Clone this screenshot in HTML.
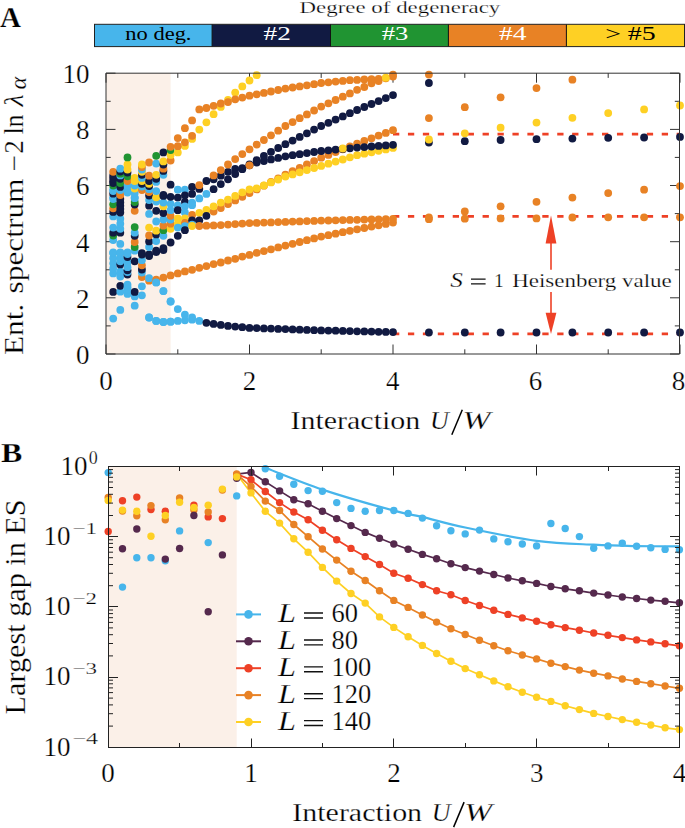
<!DOCTYPE html>
<html><head><meta charset="utf-8"><title>Entanglement spectrum figure</title>
<style>
html,body{margin:0;padding:0;background:#fff;width:685px;height:828px;overflow:hidden;}
svg{display:block;font-family:"Liberation Serif",serif;}
svg text{stroke:#fff;stroke-width:0.25px;}
</style></head><body>
<svg width="685" height="828" viewBox="0 0 685 828">
<rect width="685" height="828" fill="#fff"/>
<text x="0" y="26.6" font-family="Liberation Serif" font-weight="bold" font-size="29" fill="#000">A</text>
<text x="1" y="462.3" font-family="Liberation Serif" font-weight="bold" font-size="28" fill="#000" textLength="21.3" lengthAdjust="spacingAndGlyphs">B</text>
<text x="299.6" y="12.8" font-family="Liberation Serif" font-size="17" textLength="200.7" lengthAdjust="spacingAndGlyphs">Degree of degeneracy</text>
<rect x="94.5" y="24.3" width="118.1" height="22.3" fill="#47b5eb"/>
<rect x="212.1" y="24.3" width="118.9" height="22.3" fill="#111a42"/>
<rect x="330.5" y="24.3" width="118.4" height="22.3" fill="#209432"/>
<rect x="448.4" y="24.3" width="118.5" height="22.3" fill="#e88225"/>
<rect x="566.4" y="24.3" width="118.1" height="22.3" fill="#fed024"/>
<path d="M212.1 24.3V46.6M330.5 24.3V46.6M448.4 24.3V46.6M566.4 24.3V46.6" stroke="#111" stroke-width="1"/>
<rect x="94.5" y="24.3" width="590" height="22.3" fill="none" stroke="#222" stroke-width="1"/>
<text x="125.3" y="40" font-family="Liberation Serif" font-size="19" fill="#000" style="stroke:none" textLength="66.2" lengthAdjust="spacingAndGlyphs">no deg.</text>
<text x="263.5" y="40" font-family="Liberation Serif" font-size="19" fill="#fff" style="stroke:none" textLength="27.3" lengthAdjust="spacingAndGlyphs">#2</text>
<text x="381.7" y="40" font-family="Liberation Serif" font-size="19" fill="#fff" style="stroke:none" textLength="26.6" lengthAdjust="spacingAndGlyphs">#3</text>
<text x="499" y="40" font-family="Liberation Serif" font-size="19" fill="#fff" style="stroke:none" textLength="27.5" lengthAdjust="spacingAndGlyphs">#4</text>
<text x="605.2" y="40" font-family="Liberation Serif" font-size="19" fill="#000" style="stroke:none" textLength="50.5" lengthAdjust="spacingAndGlyphs">&gt; #5</text>
<rect x="106" y="73.2" width="64.6" height="280.8" fill="#fbf0e8"/>
<path d="M106.0 354v-9.5M106.0 73.2v9.5M177.8 354v-4.7M177.8 73.2v4.7M249.5 354v-9.5M249.5 73.2v9.5M321.2 354v-4.7M321.2 73.2v4.7M393.0 354v-9.5M393.0 73.2v9.5M464.8 354v-4.7M464.8 73.2v4.7M536.5 354v-9.5M536.5 73.2v9.5M608.2 354v-4.7M608.2 73.2v4.7M680.0 354v-9.5M680.0 73.2v9.5M106 354.0h9.5M679.5 354.0h-9.5M106 325.9h4.7M679.5 325.9h-4.7M106 297.8h9.5M679.5 297.8h-9.5M106 269.8h4.7M679.5 269.8h-4.7M106 241.7h9.5M679.5 241.7h-9.5M106 213.6h4.7M679.5 213.6h-4.7M106 185.5h9.5M679.5 185.5h-9.5M106 157.4h4.7M679.5 157.4h-4.7M106 129.4h9.5M679.5 129.4h-9.5M106 101.3h4.7M679.5 101.3h-4.7M106 73.2h9.5M679.5 73.2h-9.5" stroke="#333" stroke-width="1" fill="none"/>
<line x1="393" y1="134.1" x2="680" y2="134.1" stroke="#ee4126" stroke-width="2.8" stroke-dasharray="6.3 8.63"/>
<line x1="393" y1="216.3" x2="680" y2="216.3" stroke="#ee4126" stroke-width="2.8" stroke-dasharray="6.3 8.63"/>
<line x1="393" y1="333.8" x2="680" y2="333.8" stroke="#ee4126" stroke-width="2.8" stroke-dasharray="6.3 8.63"/>
<circle cx="113.2" cy="318.6" r="3.9" fill="#47b5eb"/>
<circle cx="113.2" cy="291.9" r="3.9" fill="#111a42"/>
<circle cx="113.2" cy="273.4" r="3.9" fill="#47b5eb"/>
<circle cx="113.2" cy="268.4" r="3.9" fill="#47b5eb"/>
<circle cx="113.2" cy="263.3" r="3.9" fill="#47b5eb"/>
<circle cx="113.2" cy="258.2" r="3.9" fill="#47b5eb"/>
<circle cx="113.2" cy="253.2" r="3.9" fill="#47b5eb"/>
<circle cx="113.2" cy="252.4" r="3.9" fill="#47b5eb"/>
<circle cx="113.2" cy="240.0" r="3.9" fill="#47b5eb"/>
<circle cx="113.2" cy="235.5" r="3.9" fill="#209432"/>
<circle cx="113.2" cy="232.7" r="3.9" fill="#111a42"/>
<circle cx="113.2" cy="227.6" r="3.9" fill="#47b5eb"/>
<circle cx="113.2" cy="216.4" r="3.9" fill="#47b5eb"/>
<circle cx="113.2" cy="211.9" r="3.9" fill="#111a42"/>
<circle cx="113.2" cy="208.3" r="3.9" fill="#e88225"/>
<circle cx="113.2" cy="204.3" r="3.9" fill="#209432"/>
<circle cx="113.2" cy="199.0" r="3.9" fill="#47b5eb"/>
<circle cx="113.2" cy="197.3" r="3.9" fill="#47b5eb"/>
<circle cx="113.2" cy="193.7" r="3.9" fill="#111a42"/>
<circle cx="113.2" cy="191.1" r="3.9" fill="#47b5eb"/>
<circle cx="113.2" cy="189.2" r="3.9" fill="#47b5eb"/>
<circle cx="113.2" cy="185.5" r="3.9" fill="#209432"/>
<circle cx="113.2" cy="183.0" r="3.9" fill="#111a42"/>
<circle cx="113.2" cy="181.3" r="3.9" fill="#111a42"/>
<circle cx="113.2" cy="178.5" r="3.9" fill="#111a42"/>
<circle cx="113.2" cy="175.7" r="3.9" fill="#111a42"/>
<circle cx="113.2" cy="171.8" r="3.9" fill="#e88225"/>
<circle cx="120.3" cy="309.9" r="3.9" fill="#47b5eb"/>
<circle cx="120.3" cy="291.7" r="3.9" fill="#47b5eb"/>
<circle cx="120.3" cy="285.8" r="3.9" fill="#111a42"/>
<circle cx="120.3" cy="276.5" r="3.9" fill="#47b5eb"/>
<circle cx="120.3" cy="271.4" r="3.9" fill="#47b5eb"/>
<circle cx="120.3" cy="264.4" r="3.9" fill="#111a42"/>
<circle cx="120.3" cy="261.3" r="3.9" fill="#47b5eb"/>
<circle cx="120.3" cy="258.2" r="3.9" fill="#47b5eb"/>
<circle cx="120.3" cy="253.2" r="3.9" fill="#47b5eb"/>
<circle cx="120.3" cy="252.4" r="3.9" fill="#47b5eb"/>
<circle cx="120.3" cy="243.9" r="3.9" fill="#47b5eb"/>
<circle cx="120.3" cy="232.7" r="3.9" fill="#111a42"/>
<circle cx="120.3" cy="228.8" r="3.9" fill="#47b5eb"/>
<circle cx="120.3" cy="223.7" r="3.9" fill="#47b5eb"/>
<circle cx="120.3" cy="218.7" r="3.9" fill="#47b5eb"/>
<circle cx="120.3" cy="212.5" r="3.9" fill="#111a42"/>
<circle cx="120.3" cy="209.1" r="3.9" fill="#111a42"/>
<circle cx="120.3" cy="205.7" r="3.9" fill="#111a42"/>
<circle cx="120.3" cy="202.4" r="3.9" fill="#111a42"/>
<circle cx="120.3" cy="199.0" r="3.9" fill="#111a42"/>
<circle cx="120.3" cy="195.1" r="3.9" fill="#e88225"/>
<circle cx="120.3" cy="193.7" r="3.9" fill="#e88225"/>
<circle cx="120.3" cy="190.0" r="3.9" fill="#47b5eb"/>
<circle cx="120.3" cy="186.9" r="3.9" fill="#111a42"/>
<circle cx="120.3" cy="183.0" r="3.9" fill="#209432"/>
<circle cx="120.3" cy="178.8" r="3.9" fill="#111a42"/>
<circle cx="120.3" cy="175.4" r="3.9" fill="#47b5eb"/>
<circle cx="120.3" cy="173.7" r="3.9" fill="#209432"/>
<circle cx="120.3" cy="171.5" r="3.9" fill="#111a42"/>
<circle cx="120.3" cy="168.7" r="3.9" fill="#47b5eb"/>
<circle cx="127.5" cy="293.9" r="3.9" fill="#47b5eb"/>
<circle cx="127.5" cy="289.4" r="3.9" fill="#47b5eb"/>
<circle cx="127.5" cy="287.2" r="3.9" fill="#47b5eb"/>
<circle cx="127.5" cy="284.6" r="3.9" fill="#47b5eb"/>
<circle cx="127.5" cy="274.5" r="3.9" fill="#111a42"/>
<circle cx="127.5" cy="272.0" r="3.9" fill="#47b5eb"/>
<circle cx="127.5" cy="270.3" r="3.9" fill="#111a42"/>
<circle cx="127.5" cy="267.2" r="3.9" fill="#47b5eb"/>
<circle cx="127.5" cy="262.2" r="3.9" fill="#47b5eb"/>
<circle cx="127.5" cy="257.1" r="3.9" fill="#111a42"/>
<circle cx="127.5" cy="254.0" r="3.9" fill="#47b5eb"/>
<circle cx="127.5" cy="252.4" r="3.9" fill="#47b5eb"/>
<circle cx="127.5" cy="192.5" r="3.9" fill="#47b5eb"/>
<circle cx="127.5" cy="190.0" r="3.9" fill="#47b5eb"/>
<circle cx="127.5" cy="186.1" r="3.9" fill="#47b5eb"/>
<circle cx="127.5" cy="181.0" r="3.9" fill="#e88225"/>
<circle cx="127.5" cy="176.3" r="3.9" fill="#209432"/>
<circle cx="127.5" cy="172.6" r="3.9" fill="#111a42"/>
<circle cx="127.5" cy="169.5" r="3.9" fill="#fed024"/>
<circle cx="127.5" cy="164.5" r="3.9" fill="#fed024"/>
<circle cx="127.5" cy="157.4" r="3.9" fill="#209432"/>
<circle cx="134.7" cy="305.7" r="3.9" fill="#47b5eb"/>
<circle cx="134.7" cy="296.4" r="3.9" fill="#47b5eb"/>
<circle cx="134.7" cy="291.9" r="3.9" fill="#111a42"/>
<circle cx="134.7" cy="261.3" r="3.9" fill="#111a42"/>
<circle cx="134.7" cy="250.7" r="3.9" fill="#47b5eb"/>
<circle cx="134.7" cy="247.0" r="3.9" fill="#209432"/>
<circle cx="134.7" cy="242.0" r="3.9" fill="#e88225"/>
<circle cx="134.7" cy="235.8" r="3.9" fill="#111a42"/>
<circle cx="134.7" cy="232.7" r="3.9" fill="#47b5eb"/>
<circle cx="134.7" cy="227.1" r="3.9" fill="#209432"/>
<circle cx="134.7" cy="210.8" r="3.9" fill="#e88225"/>
<circle cx="134.7" cy="204.6" r="3.9" fill="#111a42"/>
<circle cx="134.7" cy="202.1" r="3.9" fill="#209432"/>
<circle cx="134.7" cy="198.2" r="3.9" fill="#47b5eb"/>
<circle cx="134.7" cy="197.3" r="3.9" fill="#47b5eb"/>
<circle cx="134.7" cy="193.1" r="3.9" fill="#47b5eb"/>
<circle cx="134.7" cy="188.6" r="3.9" fill="#fed024"/>
<circle cx="134.7" cy="185.5" r="3.9" fill="#47b5eb"/>
<circle cx="134.7" cy="181.0" r="3.9" fill="#fed024"/>
<circle cx="134.7" cy="177.9" r="3.9" fill="#fed024"/>
<circle cx="141.9" cy="295.3" r="3.9" fill="#47b5eb"/>
<circle cx="141.9" cy="286.3" r="3.9" fill="#47b5eb"/>
<circle cx="141.9" cy="277.1" r="3.9" fill="#e88225"/>
<circle cx="141.9" cy="272.6" r="3.9" fill="#47b5eb"/>
<circle cx="141.9" cy="269.5" r="3.9" fill="#111a42"/>
<circle cx="141.9" cy="265.3" r="3.9" fill="#e88225"/>
<circle cx="141.9" cy="260.2" r="3.9" fill="#47b5eb"/>
<circle cx="141.9" cy="254.6" r="3.9" fill="#111a42"/>
<circle cx="141.9" cy="253.2" r="3.9" fill="#111a42"/>
<circle cx="141.9" cy="190.0" r="3.9" fill="#e88225"/>
<circle cx="141.9" cy="186.6" r="3.9" fill="#47b5eb"/>
<circle cx="141.9" cy="183.8" r="3.9" fill="#111a42"/>
<circle cx="141.9" cy="181.0" r="3.9" fill="#fed024"/>
<circle cx="141.9" cy="177.9" r="3.9" fill="#47b5eb"/>
<circle cx="141.9" cy="174.8" r="3.9" fill="#111a42"/>
<circle cx="141.9" cy="171.8" r="3.9" fill="#fed024"/>
<circle cx="141.9" cy="169.5" r="3.9" fill="#47b5eb"/>
<circle cx="141.9" cy="167.0" r="3.9" fill="#e88225"/>
<circle cx="141.9" cy="164.5" r="3.9" fill="#fed024"/>
<circle cx="149.1" cy="317.5" r="3.9" fill="#47b5eb"/>
<circle cx="149.1" cy="280.7" r="3.9" fill="#e88225"/>
<circle cx="149.1" cy="278.2" r="3.9" fill="#47b5eb"/>
<circle cx="149.1" cy="256.0" r="3.9" fill="#111a42"/>
<circle cx="149.1" cy="254.3" r="3.9" fill="#111a42"/>
<circle cx="149.1" cy="247.0" r="3.9" fill="#47b5eb"/>
<circle cx="149.1" cy="241.4" r="3.9" fill="#111a42"/>
<circle cx="149.1" cy="235.5" r="3.9" fill="#e88225"/>
<circle cx="149.1" cy="227.6" r="3.9" fill="#fed024"/>
<circle cx="149.1" cy="213.9" r="3.9" fill="#47b5eb"/>
<circle cx="149.1" cy="205.7" r="3.9" fill="#111a42"/>
<circle cx="149.1" cy="200.1" r="3.9" fill="#47b5eb"/>
<circle cx="149.1" cy="195.6" r="3.9" fill="#111a42"/>
<circle cx="149.1" cy="192.0" r="3.9" fill="#e88225"/>
<circle cx="149.1" cy="189.2" r="3.9" fill="#47b5eb"/>
<circle cx="149.1" cy="186.1" r="3.9" fill="#111a42"/>
<circle cx="149.1" cy="183.8" r="3.9" fill="#fed024"/>
<circle cx="149.1" cy="181.0" r="3.9" fill="#111a42"/>
<circle cx="149.1" cy="175.7" r="3.9" fill="#e88225"/>
<circle cx="149.1" cy="162.5" r="3.9" fill="#e88225"/>
<circle cx="156.2" cy="320.9" r="3.9" fill="#47b5eb"/>
<circle cx="156.2" cy="282.4" r="3.9" fill="#47b5eb"/>
<circle cx="156.2" cy="279.6" r="3.9" fill="#e88225"/>
<circle cx="156.2" cy="252.1" r="3.9" fill="#111a42"/>
<circle cx="156.2" cy="250.7" r="3.9" fill="#111a42"/>
<circle cx="156.2" cy="241.1" r="3.9" fill="#47b5eb"/>
<circle cx="156.2" cy="234.4" r="3.9" fill="#111a42"/>
<circle cx="156.2" cy="230.7" r="3.9" fill="#fed024"/>
<circle cx="156.2" cy="221.5" r="3.9" fill="#47b5eb"/>
<circle cx="156.2" cy="210.8" r="3.9" fill="#111a42"/>
<circle cx="156.2" cy="201.5" r="3.9" fill="#47b5eb"/>
<circle cx="156.2" cy="197.3" r="3.9" fill="#fed024"/>
<circle cx="156.2" cy="191.1" r="3.9" fill="#47b5eb"/>
<circle cx="156.2" cy="181.9" r="3.9" fill="#47b5eb"/>
<circle cx="156.2" cy="178.8" r="3.9" fill="#111a42"/>
<circle cx="156.2" cy="174.8" r="3.9" fill="#fed024"/>
<circle cx="156.2" cy="163.6" r="3.9" fill="#47b5eb"/>
<circle cx="156.2" cy="155.8" r="3.9" fill="#209432"/>
<circle cx="163.4" cy="322.0" r="3.9" fill="#47b5eb"/>
<circle cx="163.4" cy="291.1" r="3.9" fill="#47b5eb"/>
<circle cx="163.4" cy="277.6" r="3.9" fill="#e88225"/>
<circle cx="163.4" cy="250.1" r="3.9" fill="#111a42"/>
<circle cx="163.4" cy="248.1" r="3.9" fill="#111a42"/>
<circle cx="163.4" cy="235.8" r="3.9" fill="#47b5eb"/>
<circle cx="163.4" cy="230.2" r="3.9" fill="#209432"/>
<circle cx="163.4" cy="225.7" r="3.9" fill="#e88225"/>
<circle cx="163.4" cy="219.5" r="3.9" fill="#47b5eb"/>
<circle cx="163.4" cy="213.0" r="3.9" fill="#111a42"/>
<circle cx="163.4" cy="206.3" r="3.9" fill="#fed024"/>
<circle cx="163.4" cy="202.6" r="3.9" fill="#47b5eb"/>
<circle cx="163.4" cy="195.9" r="3.9" fill="#111a42"/>
<circle cx="163.4" cy="194.8" r="3.9" fill="#111a42"/>
<circle cx="163.4" cy="174.8" r="3.9" fill="#47b5eb"/>
<circle cx="163.4" cy="170.9" r="3.9" fill="#111a42"/>
<circle cx="163.4" cy="168.7" r="3.9" fill="#e88225"/>
<circle cx="163.4" cy="164.5" r="3.9" fill="#111a42"/>
<circle cx="163.4" cy="161.4" r="3.9" fill="#fed024"/>
<circle cx="163.4" cy="152.4" r="3.9" fill="#111a42"/>
<circle cx="170.6" cy="321.7" r="3.9" fill="#47b5eb"/>
<circle cx="170.6" cy="301.5" r="3.9" fill="#47b5eb"/>
<circle cx="170.6" cy="275.4" r="3.9" fill="#e88225"/>
<circle cx="170.6" cy="242.5" r="3.9" fill="#111a42"/>
<circle cx="170.6" cy="228.8" r="3.9" fill="#fed024"/>
<circle cx="170.6" cy="223.7" r="3.9" fill="#e88225"/>
<circle cx="170.6" cy="219.5" r="3.9" fill="#47b5eb"/>
<circle cx="170.6" cy="215.8" r="3.9" fill="#e88225"/>
<circle cx="170.6" cy="210.2" r="3.9" fill="#47b5eb"/>
<circle cx="170.6" cy="203.8" r="3.9" fill="#47b5eb"/>
<circle cx="170.6" cy="196.8" r="3.9" fill="#111a42"/>
<circle cx="170.6" cy="184.7" r="3.9" fill="#111a42"/>
<circle cx="170.6" cy="160.5" r="3.9" fill="#e88225"/>
<circle cx="170.6" cy="154.9" r="3.9" fill="#fed024"/>
<circle cx="170.6" cy="150.1" r="3.9" fill="#209432"/>
<circle cx="170.6" cy="146.8" r="3.9" fill="#e88225"/>
<circle cx="177.8" cy="189.7" r="3.9" fill="#47b5eb"/>
<circle cx="177.8" cy="197.6" r="3.9" fill="#111a42"/>
<circle cx="177.8" cy="205.5" r="3.9" fill="#47b5eb"/>
<circle cx="177.8" cy="210.2" r="3.9" fill="#111a42"/>
<circle cx="177.8" cy="218.4" r="3.9" fill="#fed024"/>
<circle cx="177.8" cy="223.7" r="3.9" fill="#fed024"/>
<circle cx="177.8" cy="227.6" r="3.9" fill="#47b5eb"/>
<circle cx="184.9" cy="189.7" r="3.9" fill="#47b5eb"/>
<circle cx="184.9" cy="195.3" r="3.9" fill="#111a42"/>
<circle cx="184.9" cy="201.8" r="3.9" fill="#111a42"/>
<circle cx="184.9" cy="206.3" r="3.9" fill="#47b5eb"/>
<circle cx="184.9" cy="212.5" r="3.9" fill="#47b5eb"/>
<circle cx="184.9" cy="218.4" r="3.9" fill="#fed024"/>
<circle cx="184.9" cy="222.9" r="3.9" fill="#e88225"/>
<circle cx="184.9" cy="226.2" r="3.9" fill="#47b5eb"/>
<circle cx="192.1" cy="186.9" r="3.9" fill="#111a42"/>
<circle cx="192.1" cy="193.9" r="3.9" fill="#111a42"/>
<circle cx="192.1" cy="202.6" r="3.9" fill="#47b5eb"/>
<circle cx="192.1" cy="205.2" r="3.9" fill="#47b5eb"/>
<circle cx="192.1" cy="215.0" r="3.9" fill="#e88225"/>
<circle cx="192.1" cy="220.3" r="3.9" fill="#111a42"/>
<circle cx="192.1" cy="224.6" r="3.9" fill="#47b5eb"/>
<circle cx="192.1" cy="226.0" r="3.9" fill="#fed024"/>
<circle cx="199.3" cy="188.9" r="3.9" fill="#111a42"/>
<circle cx="199.3" cy="198.4" r="3.9" fill="#47b5eb"/>
<circle cx="199.3" cy="212.8" r="3.9" fill="#fed024"/>
<circle cx="199.3" cy="220.3" r="3.9" fill="#111a42"/>
<circle cx="206.4" cy="193.9" r="3.9" fill="#47b5eb"/>
<circle cx="206.4" cy="209.9" r="3.9" fill="#fed024"/>
<circle cx="206.4" cy="215.8" r="3.9" fill="#111a42"/>
<circle cx="149.1" cy="317.5" r="3.9" fill="#47b5eb"/>
<circle cx="156.2" cy="320.9" r="3.9" fill="#47b5eb"/>
<circle cx="163.4" cy="322.0" r="3.9" fill="#47b5eb"/>
<circle cx="170.6" cy="321.7" r="3.9" fill="#47b5eb"/>
<circle cx="177.8" cy="320.9" r="3.9" fill="#47b5eb"/>
<circle cx="184.9" cy="320.3" r="3.9" fill="#47b5eb"/>
<circle cx="192.1" cy="319.7" r="3.9" fill="#47b5eb"/>
<circle cx="199.3" cy="320.9" r="3.9" fill="#47b5eb"/>
<circle cx="156.2" cy="282.4" r="3.9" fill="#47b5eb"/>
<circle cx="163.4" cy="291.1" r="3.9" fill="#47b5eb"/>
<circle cx="170.6" cy="301.5" r="3.9" fill="#47b5eb"/>
<circle cx="177.8" cy="309.1" r="3.9" fill="#47b5eb"/>
<circle cx="184.9" cy="314.7" r="3.9" fill="#47b5eb"/>
<circle cx="192.1" cy="317.5" r="3.9" fill="#47b5eb"/>
<circle cx="206.4" cy="322.8" r="3.9" fill="#111a42"/>
<circle cx="213.6" cy="323.9" r="3.9" fill="#111a42"/>
<circle cx="220.8" cy="324.9" r="3.9" fill="#111a42"/>
<circle cx="228.0" cy="325.9" r="3.9" fill="#111a42"/>
<circle cx="235.2" cy="326.6" r="3.9" fill="#111a42"/>
<circle cx="242.3" cy="327.2" r="3.9" fill="#111a42"/>
<circle cx="249.5" cy="327.9" r="3.9" fill="#111a42"/>
<circle cx="256.7" cy="328.1" r="3.9" fill="#111a42"/>
<circle cx="263.9" cy="328.4" r="3.9" fill="#111a42"/>
<circle cx="271.0" cy="328.6" r="3.9" fill="#111a42"/>
<circle cx="278.2" cy="328.9" r="3.9" fill="#111a42"/>
<circle cx="285.4" cy="329.1" r="3.9" fill="#111a42"/>
<circle cx="292.6" cy="329.4" r="3.9" fill="#111a42"/>
<circle cx="299.7" cy="329.7" r="3.9" fill="#111a42"/>
<circle cx="306.9" cy="329.9" r="3.9" fill="#111a42"/>
<circle cx="314.1" cy="330.2" r="3.9" fill="#111a42"/>
<circle cx="321.2" cy="330.4" r="3.9" fill="#111a42"/>
<circle cx="328.4" cy="330.6" r="3.9" fill="#111a42"/>
<circle cx="335.6" cy="330.7" r="3.9" fill="#111a42"/>
<circle cx="342.8" cy="330.9" r="3.9" fill="#111a42"/>
<circle cx="349.9" cy="331.1" r="3.9" fill="#111a42"/>
<circle cx="357.1" cy="331.3" r="3.9" fill="#111a42"/>
<circle cx="364.3" cy="331.4" r="3.9" fill="#111a42"/>
<circle cx="371.5" cy="331.6" r="3.9" fill="#111a42"/>
<circle cx="378.6" cy="331.8" r="3.9" fill="#111a42"/>
<circle cx="385.8" cy="331.9" r="3.9" fill="#111a42"/>
<circle cx="393.0" cy="332.1" r="3.9" fill="#111a42"/>
<circle cx="177.8" cy="273.4" r="3.9" fill="#e88225"/>
<circle cx="184.9" cy="271.4" r="3.9" fill="#e88225"/>
<circle cx="192.1" cy="269.8" r="3.9" fill="#e88225"/>
<circle cx="199.3" cy="267.8" r="3.9" fill="#e88225"/>
<circle cx="206.4" cy="266.1" r="3.9" fill="#e88225"/>
<circle cx="213.6" cy="264.1" r="3.9" fill="#e88225"/>
<circle cx="220.8" cy="262.5" r="3.9" fill="#e88225"/>
<circle cx="228.0" cy="260.5" r="3.9" fill="#e88225"/>
<circle cx="235.2" cy="258.8" r="3.9" fill="#e88225"/>
<circle cx="242.3" cy="256.6" r="3.9" fill="#e88225"/>
<circle cx="249.5" cy="254.9" r="3.9" fill="#e88225"/>
<circle cx="256.7" cy="252.9" r="3.9" fill="#e88225"/>
<circle cx="263.9" cy="251.1" r="3.9" fill="#e88225"/>
<circle cx="271.0" cy="249.3" r="3.9" fill="#e88225"/>
<circle cx="278.2" cy="247.4" r="3.9" fill="#e88225"/>
<circle cx="285.4" cy="245.6" r="3.9" fill="#e88225"/>
<circle cx="292.6" cy="243.8" r="3.9" fill="#e88225"/>
<circle cx="299.7" cy="242.0" r="3.9" fill="#e88225"/>
<circle cx="306.9" cy="240.2" r="3.9" fill="#e88225"/>
<circle cx="314.1" cy="238.4" r="3.9" fill="#e88225"/>
<circle cx="321.2" cy="236.6" r="3.9" fill="#e88225"/>
<circle cx="328.4" cy="235.2" r="3.9" fill="#e88225"/>
<circle cx="335.6" cy="233.7" r="3.9" fill="#e88225"/>
<circle cx="342.8" cy="232.2" r="3.9" fill="#e88225"/>
<circle cx="349.9" cy="230.8" r="3.9" fill="#e88225"/>
<circle cx="357.1" cy="229.3" r="3.9" fill="#e88225"/>
<circle cx="364.3" cy="228.0" r="3.9" fill="#e88225"/>
<circle cx="371.5" cy="226.6" r="3.9" fill="#e88225"/>
<circle cx="378.6" cy="225.3" r="3.9" fill="#e88225"/>
<circle cx="385.8" cy="223.9" r="3.9" fill="#e88225"/>
<circle cx="393.0" cy="222.6" r="3.9" fill="#e88225"/>
<circle cx="177.8" cy="235.8" r="3.9" fill="#111a42"/>
<circle cx="184.9" cy="230.2" r="3.9" fill="#111a42"/>
<circle cx="199.3" cy="226.0" r="3.9" fill="#e88225"/>
<circle cx="206.4" cy="225.7" r="3.9" fill="#e88225"/>
<circle cx="213.6" cy="225.4" r="3.9" fill="#e88225"/>
<circle cx="220.8" cy="225.1" r="3.9" fill="#e88225"/>
<circle cx="228.0" cy="224.6" r="3.9" fill="#e88225"/>
<circle cx="235.2" cy="224.1" r="3.9" fill="#e88225"/>
<circle cx="242.3" cy="223.6" r="3.9" fill="#e88225"/>
<circle cx="249.5" cy="223.1" r="3.9" fill="#e88225"/>
<circle cx="256.7" cy="222.9" r="3.9" fill="#e88225"/>
<circle cx="263.9" cy="222.6" r="3.9" fill="#e88225"/>
<circle cx="271.0" cy="222.4" r="3.9" fill="#e88225"/>
<circle cx="278.2" cy="222.1" r="3.9" fill="#e88225"/>
<circle cx="285.4" cy="221.9" r="3.9" fill="#e88225"/>
<circle cx="292.6" cy="221.6" r="3.9" fill="#e88225"/>
<circle cx="299.7" cy="221.4" r="3.9" fill="#e88225"/>
<circle cx="306.9" cy="221.1" r="3.9" fill="#e88225"/>
<circle cx="314.1" cy="220.9" r="3.9" fill="#e88225"/>
<circle cx="321.2" cy="220.6" r="3.9" fill="#e88225"/>
<circle cx="328.4" cy="220.5" r="3.9" fill="#e88225"/>
<circle cx="335.6" cy="220.3" r="3.9" fill="#e88225"/>
<circle cx="342.8" cy="220.1" r="3.9" fill="#e88225"/>
<circle cx="349.9" cy="219.9" r="3.9" fill="#e88225"/>
<circle cx="357.1" cy="219.8" r="3.9" fill="#e88225"/>
<circle cx="364.3" cy="219.6" r="3.9" fill="#e88225"/>
<circle cx="371.5" cy="219.4" r="3.9" fill="#e88225"/>
<circle cx="378.6" cy="219.3" r="3.9" fill="#e88225"/>
<circle cx="385.8" cy="219.1" r="3.9" fill="#e88225"/>
<circle cx="393.0" cy="218.9" r="3.9" fill="#e88225"/>
<circle cx="213.6" cy="211.6" r="3.9" fill="#e88225"/>
<circle cx="220.8" cy="208.0" r="3.9" fill="#e88225"/>
<circle cx="228.0" cy="204.1" r="3.9" fill="#e88225"/>
<circle cx="235.2" cy="200.4" r="3.9" fill="#e88225"/>
<circle cx="242.3" cy="196.8" r="3.9" fill="#e88225"/>
<circle cx="249.5" cy="193.1" r="3.9" fill="#e88225"/>
<circle cx="256.7" cy="189.4" r="3.9" fill="#e88225"/>
<circle cx="263.9" cy="185.7" r="3.9" fill="#e88225"/>
<circle cx="271.0" cy="182.0" r="3.9" fill="#e88225"/>
<circle cx="278.2" cy="178.3" r="3.9" fill="#e88225"/>
<circle cx="285.4" cy="174.6" r="3.9" fill="#e88225"/>
<circle cx="292.6" cy="171.2" r="3.9" fill="#e88225"/>
<circle cx="299.7" cy="167.8" r="3.9" fill="#e88225"/>
<circle cx="306.9" cy="164.5" r="3.9" fill="#e88225"/>
<circle cx="314.1" cy="161.1" r="3.9" fill="#e88225"/>
<circle cx="321.2" cy="157.7" r="3.9" fill="#e88225"/>
<circle cx="328.4" cy="154.9" r="3.9" fill="#e88225"/>
<circle cx="335.6" cy="152.1" r="3.9" fill="#e88225"/>
<circle cx="342.8" cy="149.3" r="3.9" fill="#e88225"/>
<circle cx="349.9" cy="146.5" r="3.9" fill="#e88225"/>
<circle cx="357.1" cy="143.7" r="3.9" fill="#e88225"/>
<circle cx="364.3" cy="141.0" r="3.9" fill="#e88225"/>
<circle cx="371.5" cy="138.3" r="3.9" fill="#e88225"/>
<circle cx="378.6" cy="135.6" r="3.9" fill="#e88225"/>
<circle cx="385.8" cy="132.9" r="3.9" fill="#e88225"/>
<circle cx="393.0" cy="130.2" r="3.9" fill="#e88225"/>
<circle cx="213.6" cy="206.3" r="3.9" fill="#fed024"/>
<circle cx="220.8" cy="202.6" r="3.9" fill="#fed024"/>
<circle cx="228.0" cy="199.6" r="3.9" fill="#fed024"/>
<circle cx="235.2" cy="195.9" r="3.9" fill="#fed024"/>
<circle cx="242.3" cy="192.3" r="3.9" fill="#fed024"/>
<circle cx="249.5" cy="189.5" r="3.9" fill="#fed024"/>
<circle cx="256.7" cy="188.3" r="3.9" fill="#fed024"/>
<circle cx="263.9" cy="185.4" r="3.9" fill="#fed024"/>
<circle cx="271.0" cy="182.4" r="3.9" fill="#fed024"/>
<circle cx="278.2" cy="179.5" r="3.9" fill="#fed024"/>
<circle cx="285.4" cy="176.5" r="3.9" fill="#fed024"/>
<circle cx="292.6" cy="174.4" r="3.9" fill="#fed024"/>
<circle cx="299.7" cy="172.3" r="3.9" fill="#fed024"/>
<circle cx="306.9" cy="170.1" r="3.9" fill="#fed024"/>
<circle cx="314.1" cy="168.0" r="3.9" fill="#fed024"/>
<circle cx="321.2" cy="165.9" r="3.9" fill="#fed024"/>
<circle cx="328.4" cy="163.7" r="3.9" fill="#fed024"/>
<circle cx="335.6" cy="161.6" r="3.9" fill="#fed024"/>
<circle cx="342.8" cy="159.5" r="3.9" fill="#fed024"/>
<circle cx="349.9" cy="157.3" r="3.9" fill="#fed024"/>
<circle cx="357.1" cy="155.2" r="3.9" fill="#fed024"/>
<circle cx="364.3" cy="153.7" r="3.9" fill="#fed024"/>
<circle cx="371.5" cy="152.3" r="3.9" fill="#fed024"/>
<circle cx="378.6" cy="150.8" r="3.9" fill="#fed024"/>
<circle cx="385.8" cy="149.4" r="3.9" fill="#fed024"/>
<circle cx="393.0" cy="147.9" r="3.9" fill="#fed024"/>
<circle cx="206.4" cy="181.0" r="3.9" fill="#111a42"/>
<circle cx="213.6" cy="179.3" r="3.9" fill="#111a42"/>
<circle cx="220.8" cy="175.7" r="3.9" fill="#111a42"/>
<circle cx="228.0" cy="171.8" r="3.9" fill="#111a42"/>
<circle cx="235.2" cy="169.0" r="3.9" fill="#111a42"/>
<circle cx="242.3" cy="168.1" r="3.9" fill="#111a42"/>
<circle cx="249.5" cy="165.3" r="3.9" fill="#111a42"/>
<circle cx="256.7" cy="162.5" r="3.9" fill="#111a42"/>
<circle cx="263.9" cy="161.0" r="3.9" fill="#111a42"/>
<circle cx="271.0" cy="159.4" r="3.9" fill="#111a42"/>
<circle cx="278.2" cy="157.9" r="3.9" fill="#111a42"/>
<circle cx="285.4" cy="156.3" r="3.9" fill="#111a42"/>
<circle cx="292.6" cy="155.2" r="3.9" fill="#111a42"/>
<circle cx="299.7" cy="154.2" r="3.9" fill="#111a42"/>
<circle cx="306.9" cy="153.1" r="3.9" fill="#111a42"/>
<circle cx="314.1" cy="152.0" r="3.9" fill="#111a42"/>
<circle cx="321.2" cy="151.0" r="3.9" fill="#111a42"/>
<circle cx="328.4" cy="150.3" r="3.9" fill="#111a42"/>
<circle cx="335.6" cy="149.6" r="3.9" fill="#111a42"/>
<circle cx="342.8" cy="149.0" r="3.9" fill="#111a42"/>
<circle cx="349.9" cy="148.3" r="3.9" fill="#111a42"/>
<circle cx="357.1" cy="147.6" r="3.9" fill="#111a42"/>
<circle cx="364.3" cy="147.1" r="3.9" fill="#111a42"/>
<circle cx="371.5" cy="146.5" r="3.9" fill="#111a42"/>
<circle cx="378.6" cy="145.9" r="3.9" fill="#111a42"/>
<circle cx="385.8" cy="145.4" r="3.9" fill="#111a42"/>
<circle cx="393.0" cy="144.8" r="3.9" fill="#111a42"/>
<circle cx="213.6" cy="189.2" r="3.9" fill="#111a42"/>
<circle cx="220.8" cy="184.1" r="3.9" fill="#111a42"/>
<circle cx="228.0" cy="179.3" r="3.9" fill="#111a42"/>
<circle cx="235.2" cy="174.0" r="3.9" fill="#111a42"/>
<circle cx="242.3" cy="169.2" r="3.9" fill="#111a42"/>
<circle cx="249.5" cy="164.5" r="3.9" fill="#111a42"/>
<circle cx="256.7" cy="160.2" r="3.9" fill="#111a42"/>
<circle cx="263.9" cy="156.0" r="3.9" fill="#111a42"/>
<circle cx="271.0" cy="151.8" r="3.9" fill="#111a42"/>
<circle cx="278.2" cy="148.0" r="3.9" fill="#111a42"/>
<circle cx="285.4" cy="144.2" r="3.9" fill="#111a42"/>
<circle cx="292.6" cy="140.6" r="3.9" fill="#111a42"/>
<circle cx="299.7" cy="136.9" r="3.9" fill="#111a42"/>
<circle cx="306.9" cy="133.3" r="3.9" fill="#111a42"/>
<circle cx="314.1" cy="129.6" r="3.9" fill="#111a42"/>
<circle cx="321.2" cy="126.0" r="3.9" fill="#111a42"/>
<circle cx="328.4" cy="122.8" r="3.9" fill="#111a42"/>
<circle cx="335.6" cy="119.6" r="3.9" fill="#111a42"/>
<circle cx="342.8" cy="116.4" r="3.9" fill="#111a42"/>
<circle cx="349.9" cy="113.2" r="3.9" fill="#111a42"/>
<circle cx="357.1" cy="110.0" r="3.9" fill="#111a42"/>
<circle cx="364.3" cy="107.0" r="3.9" fill="#111a42"/>
<circle cx="371.5" cy="104.0" r="3.9" fill="#111a42"/>
<circle cx="378.6" cy="101.1" r="3.9" fill="#111a42"/>
<circle cx="385.8" cy="98.1" r="3.9" fill="#111a42"/>
<circle cx="393.0" cy="95.1" r="3.9" fill="#111a42"/>
<circle cx="249.5" cy="165.3" r="3.9" fill="#e88225"/>
<circle cx="342.8" cy="148.5" r="3.9" fill="#fed024"/>
<circle cx="199.3" cy="185.2" r="3.9" fill="#e88225"/>
<circle cx="213.6" cy="175.4" r="3.9" fill="#e88225"/>
<circle cx="220.8" cy="170.1" r="3.9" fill="#e88225"/>
<circle cx="228.0" cy="164.5" r="3.9" fill="#e88225"/>
<circle cx="235.2" cy="159.1" r="3.9" fill="#e88225"/>
<circle cx="242.3" cy="154.1" r="3.9" fill="#e88225"/>
<circle cx="249.5" cy="149.3" r="3.9" fill="#e88225"/>
<circle cx="256.7" cy="144.6" r="3.9" fill="#e88225"/>
<circle cx="263.9" cy="140.0" r="3.9" fill="#e88225"/>
<circle cx="271.0" cy="135.3" r="3.9" fill="#e88225"/>
<circle cx="278.2" cy="130.7" r="3.9" fill="#e88225"/>
<circle cx="285.4" cy="126.0" r="3.9" fill="#e88225"/>
<circle cx="292.6" cy="122.1" r="3.9" fill="#e88225"/>
<circle cx="299.7" cy="118.2" r="3.9" fill="#e88225"/>
<circle cx="306.9" cy="114.4" r="3.9" fill="#e88225"/>
<circle cx="314.1" cy="110.5" r="3.9" fill="#e88225"/>
<circle cx="321.2" cy="106.6" r="3.9" fill="#e88225"/>
<circle cx="328.4" cy="103.3" r="3.9" fill="#e88225"/>
<circle cx="335.6" cy="100.0" r="3.9" fill="#e88225"/>
<circle cx="342.8" cy="96.7" r="3.9" fill="#e88225"/>
<circle cx="349.9" cy="93.4" r="3.9" fill="#e88225"/>
<circle cx="357.1" cy="89.8" r="3.9" fill="#e88225"/>
<circle cx="364.3" cy="87.0" r="3.9" fill="#e88225"/>
<circle cx="371.5" cy="83.3" r="3.9" fill="#e88225"/>
<circle cx="378.6" cy="81.1" r="3.9" fill="#e88225"/>
<circle cx="385.8" cy="78.3" r="3.9" fill="#e88225"/>
<circle cx="393.0" cy="76.6" r="3.9" fill="#e88225"/>
<circle cx="177.8" cy="152.4" r="3.9" fill="#fed024"/>
<circle cx="184.9" cy="145.9" r="3.9" fill="#fed024"/>
<circle cx="192.1" cy="138.9" r="3.9" fill="#fed024"/>
<circle cx="199.3" cy="129.6" r="3.9" fill="#fed024"/>
<circle cx="206.4" cy="122.3" r="3.9" fill="#fed024"/>
<circle cx="213.6" cy="114.2" r="3.9" fill="#fed024"/>
<circle cx="220.8" cy="106.9" r="3.9" fill="#fed024"/>
<circle cx="228.0" cy="99.9" r="3.9" fill="#fed024"/>
<circle cx="235.2" cy="92.6" r="3.9" fill="#fed024"/>
<circle cx="242.3" cy="86.4" r="3.9" fill="#fed024"/>
<circle cx="249.5" cy="80.5" r="3.9" fill="#fed024"/>
<circle cx="256.7" cy="75.2" r="3.9" fill="#fed024"/>
<circle cx="177.8" cy="146.2" r="3.9" fill="#e88225"/>
<circle cx="184.9" cy="142.3" r="3.9" fill="#e88225"/>
<circle cx="192.1" cy="135.8" r="3.9" fill="#e88225"/>
<circle cx="177.8" cy="138.1" r="3.9" fill="#e88225"/>
<circle cx="184.9" cy="128.2" r="3.9" fill="#e88225"/>
<circle cx="192.1" cy="120.4" r="3.9" fill="#e88225"/>
<circle cx="199.3" cy="109.4" r="3.9" fill="#e88225"/>
<circle cx="206.4" cy="108.0" r="3.9" fill="#e88225"/>
<circle cx="213.6" cy="105.8" r="3.9" fill="#e88225"/>
<circle cx="220.8" cy="103.5" r="3.9" fill="#e88225"/>
<circle cx="228.0" cy="102.1" r="3.9" fill="#e88225"/>
<circle cx="235.2" cy="99.3" r="3.9" fill="#e88225"/>
<circle cx="242.3" cy="97.6" r="3.9" fill="#e88225"/>
<circle cx="249.5" cy="95.7" r="3.9" fill="#e88225"/>
<circle cx="256.7" cy="94.3" r="3.9" fill="#e88225"/>
<circle cx="263.9" cy="92.9" r="3.9" fill="#e88225"/>
<circle cx="271.0" cy="91.5" r="3.9" fill="#e88225"/>
<circle cx="278.2" cy="90.0" r="3.9" fill="#e88225"/>
<circle cx="285.4" cy="88.6" r="3.9" fill="#e88225"/>
<circle cx="292.6" cy="87.5" r="3.9" fill="#e88225"/>
<circle cx="299.7" cy="86.4" r="3.9" fill="#e88225"/>
<circle cx="306.9" cy="85.3" r="3.9" fill="#e88225"/>
<circle cx="314.1" cy="84.2" r="3.9" fill="#e88225"/>
<circle cx="321.2" cy="83.0" r="3.9" fill="#e88225"/>
<circle cx="328.4" cy="82.3" r="3.9" fill="#e88225"/>
<circle cx="335.6" cy="81.6" r="3.9" fill="#e88225"/>
<circle cx="342.8" cy="80.9" r="3.9" fill="#e88225"/>
<circle cx="349.9" cy="80.2" r="3.9" fill="#e88225"/>
<circle cx="357.1" cy="79.9" r="3.9" fill="#e88225"/>
<circle cx="364.3" cy="79.5" r="3.9" fill="#e88225"/>
<circle cx="371.5" cy="79.2" r="3.9" fill="#e88225"/>
<circle cx="378.6" cy="78.8" r="3.9" fill="#e88225"/>
<circle cx="385.8" cy="77.7" r="3.9" fill="#fed024"/>
<circle cx="393.0" cy="74.6" r="3.9" fill="#e88225"/>
<circle cx="428.9" cy="74.6" r="3.9" fill="#e88225"/>
<circle cx="428.9" cy="83.0" r="3.9" fill="#111a42"/>
<circle cx="428.9" cy="118.1" r="3.9" fill="#e88225"/>
<circle cx="428.9" cy="142.6" r="3.9" fill="#111a42"/>
<circle cx="428.9" cy="139.5" r="3.9" fill="#fed024"/>
<circle cx="428.9" cy="217.3" r="3.9" fill="#e88225"/>
<circle cx="428.9" cy="219.2" r="3.9" fill="#e88225"/>
<circle cx="428.9" cy="332.5" r="3.9" fill="#111a42"/>
<circle cx="464.8" cy="107.2" r="3.9" fill="#e88225"/>
<circle cx="464.8" cy="141.2" r="3.9" fill="#111a42"/>
<circle cx="464.8" cy="133.3" r="3.9" fill="#fed024"/>
<circle cx="464.8" cy="211.4" r="3.9" fill="#e88225"/>
<circle cx="464.8" cy="218.7" r="3.9" fill="#e88225"/>
<circle cx="464.8" cy="332.5" r="3.9" fill="#111a42"/>
<circle cx="500.6" cy="97.3" r="3.9" fill="#e88225"/>
<circle cx="500.6" cy="140.0" r="3.9" fill="#111a42"/>
<circle cx="500.6" cy="127.7" r="3.9" fill="#fed024"/>
<circle cx="500.6" cy="206.3" r="3.9" fill="#e88225"/>
<circle cx="500.6" cy="218.4" r="3.9" fill="#e88225"/>
<circle cx="500.6" cy="332.5" r="3.9" fill="#111a42"/>
<circle cx="536.5" cy="88.1" r="3.9" fill="#e88225"/>
<circle cx="536.5" cy="139.2" r="3.9" fill="#111a42"/>
<circle cx="536.5" cy="122.6" r="3.9" fill="#fed024"/>
<circle cx="536.5" cy="201.8" r="3.9" fill="#e88225"/>
<circle cx="536.5" cy="218.4" r="3.9" fill="#e88225"/>
<circle cx="536.5" cy="332.5" r="3.9" fill="#111a42"/>
<circle cx="572.4" cy="79.7" r="3.9" fill="#e88225"/>
<circle cx="572.4" cy="138.6" r="3.9" fill="#111a42"/>
<circle cx="572.4" cy="117.8" r="3.9" fill="#fed024"/>
<circle cx="572.4" cy="197.6" r="3.9" fill="#e88225"/>
<circle cx="572.4" cy="217.5" r="3.9" fill="#e88225"/>
<circle cx="572.4" cy="332.5" r="3.9" fill="#111a42"/>
<circle cx="608.2" cy="137.8" r="3.9" fill="#111a42"/>
<circle cx="608.2" cy="113.1" r="3.9" fill="#fed024"/>
<circle cx="608.2" cy="193.1" r="3.9" fill="#e88225"/>
<circle cx="608.2" cy="217.3" r="3.9" fill="#e88225"/>
<circle cx="608.2" cy="332.5" r="3.9" fill="#111a42"/>
<circle cx="644.1" cy="137.5" r="3.9" fill="#111a42"/>
<circle cx="644.1" cy="109.4" r="3.9" fill="#fed024"/>
<circle cx="644.1" cy="189.7" r="3.9" fill="#e88225"/>
<circle cx="644.1" cy="217.3" r="3.9" fill="#e88225"/>
<circle cx="644.1" cy="332.5" r="3.9" fill="#111a42"/>
<circle cx="680.0" cy="136.9" r="3.9" fill="#111a42"/>
<circle cx="680.0" cy="105.5" r="3.9" fill="#fed024"/>
<circle cx="680.0" cy="186.1" r="3.9" fill="#e88225"/>
<circle cx="680.0" cy="217.3" r="3.9" fill="#e88225"/>
<circle cx="680.0" cy="332.5" r="3.9" fill="#111a42"/>
<path d="M106 73.2H679.5V354H106Z" fill="none" stroke="#333" stroke-width="1"/>
<text x="89.5" y="363.8" font-family="Liberation Serif" font-size="27" text-anchor="end">0</text>
<text x="89.5" y="307.6" font-family="Liberation Serif" font-size="27" text-anchor="end">2</text>
<text x="89.5" y="251.5" font-family="Liberation Serif" font-size="27" text-anchor="end">4</text>
<text x="89.5" y="195.3" font-family="Liberation Serif" font-size="27" text-anchor="end">6</text>
<text x="89.5" y="139.2" font-family="Liberation Serif" font-size="27" text-anchor="end">8</text>
<text x="89.5" y="83.0" font-family="Liberation Serif" font-size="27" text-anchor="end">10</text>
<text x="105.9" y="389.6" font-family="Liberation Serif" font-size="27" text-anchor="middle">0</text>
<text x="249.5" y="389.6" font-family="Liberation Serif" font-size="27" text-anchor="middle">2</text>
<text x="392.8" y="389.6" font-family="Liberation Serif" font-size="27" text-anchor="middle">4</text>
<text x="535.5" y="389.6" font-family="Liberation Serif" font-size="27" text-anchor="middle">6</text>
<text x="678.5" y="389.6" font-family="Liberation Serif" font-size="27" text-anchor="middle">8</text>
<text x="290.5" y="429" font-family="Liberation Serif" font-size="26" textLength="129.8" lengthAdjust="spacingAndGlyphs">Interaction</text>
<text x="430.0" y="429" font-family="Liberation Serif" font-size="26" font-style="italic">U</text>
<line x1="462.3" y1="409.8" x2="451.8" y2="434.8" stroke="#000" stroke-width="1.5"/>
<text x="462.5" y="429" font-family="Liberation Serif" font-size="26" font-style="italic" textLength="28" lengthAdjust="spacingAndGlyphs">W</text>
<g transform="translate(23,355) rotate(-90)" font-family="Liberation Serif" font-size="27">
<text x="0" y="0" textLength="51.2" lengthAdjust="spacingAndGlyphs">Ent.</text>
<text x="61.5" y="0" textLength="115" lengthAdjust="spacingAndGlyphs">spectrum</text>
<text x="183.5" y="0" textLength="16.5" lengthAdjust="spacingAndGlyphs">−</text>
<text x="201.3" y="0">2</text>
<text x="220.7" y="0" textLength="19.8" lengthAdjust="spacingAndGlyphs">ln</text>
<text x="248.5" y="0" font-style="italic" font-size="28">λ</text>
<text x="265.5" y="3.2" font-size="24" font-style="italic">α</text>
</g>
<line x1="551" y1="243" x2="551" y2="269.8" stroke="#ee4126" stroke-width="1.6"/>
<polygon points="551,215.5 545.6,243.6 556.4,243.6" fill="#ee4126"/>
<line x1="551" y1="292" x2="551" y2="313" stroke="#ee4126" stroke-width="1.6"/>
<polygon points="551,333.9 545.6,312.7 556.4,312.7" fill="#ee4126"/>
<text x="450.3" y="287" font-family="Liberation Serif" font-size="21" font-style="italic" textLength="12.6" lengthAdjust="spacingAndGlyphs">S</text>
<path d="M471 278.4h14.6v1.3H471zM471 283.3h14.6v1.3H471z" fill="#111"/>
<text x="494" y="287" font-family="Liberation Serif" font-size="19.5">1</text>
<text x="512.2" y="287" font-family="Liberation Serif" font-size="19.5" textLength="159.6" lengthAdjust="spacingAndGlyphs">Heisenberg value</text>
<rect x="108.2" y="466.4" width="128.5" height="280.8" fill="#fbf0e8"/>
<path d="M236.7 474.1 L251.0 492.9 L265.3 511.3 L279.6 523.1 L293.8 538.8 L308.1 552.2 L322.4 567.4 L336.7 581.1 L351.0 593.5 L365.2 603.1 L379.5 616.9 L393.8 627.4 L408.1 636.7 L422.4 645.4 L436.6 653.5 L450.9 661.2 L465.2 668.6 L479.5 674.8 L493.8 680.9 L508.0 686.8 L522.3 692.2 L536.6 697.2 L550.9 701.4 L565.2 705.7 L579.4 709.6 L593.7 713.4 L608.0 716.5 L622.3 719.6 L636.6 722.3 L650.8 725.0 L665.1 727.8 L679.4 729.6" stroke="#fed024" stroke-width="1.7" fill="none"/>
<path d="M236.7 474.1 L251.0 486.5 L265.3 501.1 L279.6 510.5 L293.8 524.5 L308.1 536.7 L322.4 549.0 L336.7 560.1 L351.0 571.2 L365.2 580.5 L379.5 590.8 L393.8 600.4 L408.1 607.4 L422.4 615.0 L436.6 622.1 L450.9 628.7 L465.2 634.5 L479.5 640.3 L493.8 645.8 L508.0 650.7 L522.3 655.0 L536.6 658.9 L550.9 663.2 L565.2 666.6 L579.4 670.1 L593.7 673.2 L608.0 675.9 L622.3 679.0 L636.6 681.4 L650.8 683.7 L665.1 686.0 L679.4 688.3" stroke="#e88225" stroke-width="1.7" fill="none"/>
<path d="M236.7 474.1 L251.0 479.8 L265.3 491.5 L279.6 502.6 L293.8 512.0 L308.1 519.8 L322.4 530.3 L336.7 539.7 L351.0 548.4 L365.2 556.6 L379.5 564.5 L393.8 573.2 L408.1 578.2 L422.4 584.6 L436.6 590.8 L450.9 594.7 L465.2 600.5 L479.5 605.5 L493.8 610.2 L508.0 614.4 L522.3 617.9 L536.6 621.3 L550.9 624.8 L565.2 627.6 L579.4 630.2 L593.7 633.0 L608.0 635.3 L622.3 637.6 L636.6 639.9 L650.8 641.9 L665.1 643.8 L679.4 645.8" stroke="#ee4126" stroke-width="1.7" fill="none"/>
<path d="M236.7 474.1 L251.0 472.5 L265.3 481.8 L279.6 490.9 L293.8 499.7 L308.1 503.7 L322.4 511.3 L336.7 518.6 L351.0 525.6 L365.2 532.4 L379.5 538.2 L393.8 544.0 L408.1 549.3 L422.4 554.4 L436.6 558.7 L450.9 563.7 L465.2 567.6 L479.5 571.1 L493.8 574.5 L508.0 578.0 L522.3 580.8 L536.6 583.4 L550.9 586.5 L565.2 588.8 L579.4 590.8 L593.7 593.1 L608.0 595.0 L622.3 597.0 L636.6 598.5 L650.8 600.1 L665.1 601.3 L679.4 602.8" stroke="#55294d" stroke-width="1.7" fill="none"/>
<path d="M265.3 467.8 C274.8 471.4 301.0 482.4 322.4 489.6 C343.8 496.7 377.1 506.1 393.8 510.6 C410.5 515.2 410.5 514.1 422.4 516.9 C434.3 519.8 446.2 523.5 465.2 527.5 C484.2 531.5 515.2 537.9 536.6 540.8 C558.0 543.7 577.1 543.9 593.7 544.7 C610.4 545.6 622.3 545.8 636.6 546.1 C650.8 546.3 672.3 546.3 679.4 546.3" stroke="#47b5eb" stroke-width="2.2" fill="none"/>
<circle cx="108.2" cy="472.6" r="3.7" fill="#47b5eb"/>
<circle cx="108.2" cy="497.4" r="3.7" fill="#e88225"/>
<circle cx="108.2" cy="500.4" r="3.7" fill="#fed024"/>
<circle cx="108.2" cy="531.5" r="3.7" fill="#ee4126"/>
<circle cx="122.5" cy="500.8" r="3.7" fill="#ee4126"/>
<circle cx="122.5" cy="511.0" r="3.7" fill="#e88225"/>
<circle cx="122.5" cy="510.1" r="3.7" fill="#fed024"/>
<circle cx="122.5" cy="548.7" r="3.7" fill="#55294d"/>
<circle cx="122.5" cy="587.1" r="3.7" fill="#47b5eb"/>
<circle cx="136.8" cy="497.1" r="3.7" fill="#ee4126"/>
<circle cx="136.8" cy="515.8" r="3.7" fill="#e88225"/>
<circle cx="136.8" cy="511.3" r="3.7" fill="#fed024"/>
<circle cx="136.8" cy="529.0" r="3.7" fill="#55294d"/>
<circle cx="136.8" cy="557.7" r="3.7" fill="#47b5eb"/>
<circle cx="151.0" cy="509.5" r="3.7" fill="#ee4126"/>
<circle cx="151.0" cy="505.6" r="3.7" fill="#e88225"/>
<circle cx="151.0" cy="536.2" r="3.7" fill="#fed024"/>
<circle cx="151.0" cy="557.7" r="3.7" fill="#47b5eb"/>
<circle cx="165.3" cy="511.3" r="3.7" fill="#ee4126"/>
<circle cx="165.3" cy="519.8" r="3.7" fill="#e88225"/>
<circle cx="165.3" cy="515.5" r="3.7" fill="#fed024"/>
<circle cx="165.3" cy="560.8" r="3.7" fill="#47b5eb"/>
<circle cx="165.3" cy="559.1" r="3.7" fill="#55294d"/>
<circle cx="179.6" cy="497.9" r="3.7" fill="#e88225"/>
<circle cx="179.6" cy="502.3" r="3.7" fill="#fed024"/>
<circle cx="179.6" cy="530.9" r="3.7" fill="#47b5eb"/>
<circle cx="179.6" cy="548.5" r="3.7" fill="#55294d"/>
<circle cx="193.9" cy="505.2" r="3.7" fill="#ee4126"/>
<circle cx="193.9" cy="509.9" r="3.7" fill="#e88225"/>
<circle cx="193.9" cy="507.5" r="3.7" fill="#fed024"/>
<circle cx="193.9" cy="515.5" r="3.7" fill="#55294d"/>
<circle cx="208.2" cy="516.9" r="3.7" fill="#ee4126"/>
<circle cx="208.2" cy="512.0" r="3.7" fill="#e88225"/>
<circle cx="208.2" cy="505.2" r="3.7" fill="#fed024"/>
<circle cx="208.2" cy="542.6" r="3.7" fill="#47b5eb"/>
<circle cx="208.2" cy="611.7" r="3.7" fill="#55294d"/>
<circle cx="222.4" cy="518.6" r="3.7" fill="#ee4126"/>
<circle cx="222.4" cy="490.1" r="3.7" fill="#e88225"/>
<circle cx="222.4" cy="489.1" r="3.7" fill="#fed024"/>
<circle cx="222.4" cy="554.9" r="3.7" fill="#55294d"/>
<circle cx="236.7" cy="495.9" r="3.7" fill="#47b5eb"/>
<circle cx="236.7" cy="478.3" r="3.7" fill="#55294d"/>
<circle cx="236.7" cy="474.8" r="3.7" fill="#ee4126"/>
<circle cx="236.7" cy="474.0" r="3.7" fill="#e88225"/>
<circle cx="236.7" cy="476.9" r="3.7" fill="#fed024"/>
<circle cx="265.3" cy="468.7" r="3.7" fill="#47b5eb"/>
<circle cx="279.6" cy="476.3" r="3.7" fill="#47b5eb"/>
<circle cx="293.8" cy="484.2" r="3.7" fill="#47b5eb"/>
<circle cx="308.1" cy="490.6" r="3.7" fill="#47b5eb"/>
<circle cx="322.4" cy="491.2" r="3.7" fill="#47b5eb"/>
<circle cx="336.7" cy="502.6" r="3.7" fill="#47b5eb"/>
<circle cx="351.0" cy="508.4" r="3.7" fill="#47b5eb"/>
<circle cx="365.2" cy="511.3" r="3.7" fill="#47b5eb"/>
<circle cx="379.5" cy="510.5" r="3.7" fill="#47b5eb"/>
<circle cx="393.8" cy="510.5" r="3.7" fill="#47b5eb"/>
<circle cx="408.1" cy="513.4" r="3.7" fill="#47b5eb"/>
<circle cx="422.4" cy="518.1" r="3.7" fill="#47b5eb"/>
<circle cx="436.6" cy="525.8" r="3.7" fill="#47b5eb"/>
<circle cx="450.9" cy="530.8" r="3.7" fill="#47b5eb"/>
<circle cx="465.2" cy="533.9" r="3.7" fill="#47b5eb"/>
<circle cx="479.5" cy="530.1" r="3.7" fill="#47b5eb"/>
<circle cx="493.8" cy="538.9" r="3.7" fill="#47b5eb"/>
<circle cx="508.0" cy="541.7" r="3.7" fill="#47b5eb"/>
<circle cx="522.3" cy="544.0" r="3.7" fill="#47b5eb"/>
<circle cx="536.6" cy="545.9" r="3.7" fill="#47b5eb"/>
<circle cx="550.9" cy="523.5" r="3.7" fill="#47b5eb"/>
<circle cx="565.2" cy="528.5" r="3.7" fill="#47b5eb"/>
<circle cx="579.4" cy="536.6" r="3.7" fill="#47b5eb"/>
<circle cx="593.7" cy="548.3" r="3.7" fill="#47b5eb"/>
<circle cx="608.0" cy="545.9" r="3.7" fill="#47b5eb"/>
<circle cx="622.3" cy="543.2" r="3.7" fill="#47b5eb"/>
<circle cx="636.6" cy="546.3" r="3.7" fill="#47b5eb"/>
<circle cx="650.8" cy="547.8" r="3.7" fill="#47b5eb"/>
<circle cx="665.1" cy="549.4" r="3.7" fill="#47b5eb"/>
<circle cx="679.4" cy="549.8" r="3.7" fill="#47b5eb"/>
<circle cx="251.0" cy="472.5" r="3.7" fill="#55294d"/>
<circle cx="265.3" cy="481.8" r="3.7" fill="#55294d"/>
<circle cx="279.6" cy="490.9" r="3.7" fill="#55294d"/>
<circle cx="293.8" cy="499.7" r="3.7" fill="#55294d"/>
<circle cx="308.1" cy="503.7" r="3.7" fill="#55294d"/>
<circle cx="322.4" cy="511.3" r="3.7" fill="#55294d"/>
<circle cx="336.7" cy="518.6" r="3.7" fill="#55294d"/>
<circle cx="351.0" cy="525.6" r="3.7" fill="#55294d"/>
<circle cx="365.2" cy="532.4" r="3.7" fill="#55294d"/>
<circle cx="379.5" cy="538.2" r="3.7" fill="#55294d"/>
<circle cx="393.8" cy="544.0" r="3.7" fill="#55294d"/>
<circle cx="408.1" cy="549.3" r="3.7" fill="#55294d"/>
<circle cx="422.4" cy="554.4" r="3.7" fill="#55294d"/>
<circle cx="436.6" cy="558.7" r="3.7" fill="#55294d"/>
<circle cx="450.9" cy="563.7" r="3.7" fill="#55294d"/>
<circle cx="465.2" cy="567.6" r="3.7" fill="#55294d"/>
<circle cx="479.5" cy="571.1" r="3.7" fill="#55294d"/>
<circle cx="493.8" cy="574.5" r="3.7" fill="#55294d"/>
<circle cx="508.0" cy="578.0" r="3.7" fill="#55294d"/>
<circle cx="522.3" cy="580.8" r="3.7" fill="#55294d"/>
<circle cx="536.6" cy="583.4" r="3.7" fill="#55294d"/>
<circle cx="550.9" cy="586.5" r="3.7" fill="#55294d"/>
<circle cx="565.2" cy="588.8" r="3.7" fill="#55294d"/>
<circle cx="579.4" cy="590.8" r="3.7" fill="#55294d"/>
<circle cx="593.7" cy="593.1" r="3.7" fill="#55294d"/>
<circle cx="608.0" cy="595.0" r="3.7" fill="#55294d"/>
<circle cx="622.3" cy="597.0" r="3.7" fill="#55294d"/>
<circle cx="636.6" cy="598.5" r="3.7" fill="#55294d"/>
<circle cx="650.8" cy="600.1" r="3.7" fill="#55294d"/>
<circle cx="665.1" cy="601.3" r="3.7" fill="#55294d"/>
<circle cx="679.4" cy="602.8" r="3.7" fill="#55294d"/>
<circle cx="251.0" cy="479.8" r="3.7" fill="#ee4126"/>
<circle cx="265.3" cy="491.5" r="3.7" fill="#ee4126"/>
<circle cx="279.6" cy="502.6" r="3.7" fill="#ee4126"/>
<circle cx="293.8" cy="512.0" r="3.7" fill="#ee4126"/>
<circle cx="308.1" cy="519.8" r="3.7" fill="#ee4126"/>
<circle cx="322.4" cy="530.3" r="3.7" fill="#ee4126"/>
<circle cx="336.7" cy="539.7" r="3.7" fill="#ee4126"/>
<circle cx="351.0" cy="548.4" r="3.7" fill="#ee4126"/>
<circle cx="365.2" cy="556.6" r="3.7" fill="#ee4126"/>
<circle cx="379.5" cy="564.5" r="3.7" fill="#ee4126"/>
<circle cx="393.8" cy="573.2" r="3.7" fill="#ee4126"/>
<circle cx="408.1" cy="578.2" r="3.7" fill="#ee4126"/>
<circle cx="422.4" cy="584.6" r="3.7" fill="#ee4126"/>
<circle cx="436.6" cy="590.8" r="3.7" fill="#ee4126"/>
<circle cx="450.9" cy="594.7" r="3.7" fill="#ee4126"/>
<circle cx="465.2" cy="600.5" r="3.7" fill="#ee4126"/>
<circle cx="479.5" cy="605.5" r="3.7" fill="#ee4126"/>
<circle cx="493.8" cy="610.2" r="3.7" fill="#ee4126"/>
<circle cx="508.0" cy="614.4" r="3.7" fill="#ee4126"/>
<circle cx="522.3" cy="617.9" r="3.7" fill="#ee4126"/>
<circle cx="536.6" cy="621.3" r="3.7" fill="#ee4126"/>
<circle cx="550.9" cy="624.8" r="3.7" fill="#ee4126"/>
<circle cx="565.2" cy="627.6" r="3.7" fill="#ee4126"/>
<circle cx="579.4" cy="630.2" r="3.7" fill="#ee4126"/>
<circle cx="593.7" cy="633.0" r="3.7" fill="#ee4126"/>
<circle cx="608.0" cy="635.3" r="3.7" fill="#ee4126"/>
<circle cx="622.3" cy="637.6" r="3.7" fill="#ee4126"/>
<circle cx="636.6" cy="639.9" r="3.7" fill="#ee4126"/>
<circle cx="650.8" cy="641.9" r="3.7" fill="#ee4126"/>
<circle cx="665.1" cy="643.8" r="3.7" fill="#ee4126"/>
<circle cx="679.4" cy="645.8" r="3.7" fill="#ee4126"/>
<circle cx="251.0" cy="486.5" r="3.7" fill="#e88225"/>
<circle cx="265.3" cy="501.1" r="3.7" fill="#e88225"/>
<circle cx="279.6" cy="510.5" r="3.7" fill="#e88225"/>
<circle cx="293.8" cy="524.5" r="3.7" fill="#e88225"/>
<circle cx="308.1" cy="536.7" r="3.7" fill="#e88225"/>
<circle cx="322.4" cy="549.0" r="3.7" fill="#e88225"/>
<circle cx="336.7" cy="560.1" r="3.7" fill="#e88225"/>
<circle cx="351.0" cy="571.2" r="3.7" fill="#e88225"/>
<circle cx="365.2" cy="580.5" r="3.7" fill="#e88225"/>
<circle cx="379.5" cy="590.8" r="3.7" fill="#e88225"/>
<circle cx="393.8" cy="600.4" r="3.7" fill="#e88225"/>
<circle cx="408.1" cy="607.4" r="3.7" fill="#e88225"/>
<circle cx="422.4" cy="615.0" r="3.7" fill="#e88225"/>
<circle cx="436.6" cy="622.1" r="3.7" fill="#e88225"/>
<circle cx="450.9" cy="628.7" r="3.7" fill="#e88225"/>
<circle cx="465.2" cy="634.5" r="3.7" fill="#e88225"/>
<circle cx="479.5" cy="640.3" r="3.7" fill="#e88225"/>
<circle cx="493.8" cy="645.8" r="3.7" fill="#e88225"/>
<circle cx="508.0" cy="650.7" r="3.7" fill="#e88225"/>
<circle cx="522.3" cy="655.0" r="3.7" fill="#e88225"/>
<circle cx="536.6" cy="658.9" r="3.7" fill="#e88225"/>
<circle cx="550.9" cy="663.2" r="3.7" fill="#e88225"/>
<circle cx="565.2" cy="666.6" r="3.7" fill="#e88225"/>
<circle cx="579.4" cy="670.1" r="3.7" fill="#e88225"/>
<circle cx="593.7" cy="673.2" r="3.7" fill="#e88225"/>
<circle cx="608.0" cy="675.9" r="3.7" fill="#e88225"/>
<circle cx="622.3" cy="679.0" r="3.7" fill="#e88225"/>
<circle cx="636.6" cy="681.4" r="3.7" fill="#e88225"/>
<circle cx="650.8" cy="683.7" r="3.7" fill="#e88225"/>
<circle cx="665.1" cy="686.0" r="3.7" fill="#e88225"/>
<circle cx="679.4" cy="688.3" r="3.7" fill="#e88225"/>
<circle cx="251.0" cy="492.9" r="3.7" fill="#fed024"/>
<circle cx="265.3" cy="511.3" r="3.7" fill="#fed024"/>
<circle cx="279.6" cy="523.1" r="3.7" fill="#fed024"/>
<circle cx="293.8" cy="538.8" r="3.7" fill="#fed024"/>
<circle cx="308.1" cy="552.2" r="3.7" fill="#fed024"/>
<circle cx="322.4" cy="567.4" r="3.7" fill="#fed024"/>
<circle cx="336.7" cy="581.1" r="3.7" fill="#fed024"/>
<circle cx="351.0" cy="593.5" r="3.7" fill="#fed024"/>
<circle cx="365.2" cy="603.1" r="3.7" fill="#fed024"/>
<circle cx="379.5" cy="616.9" r="3.7" fill="#fed024"/>
<circle cx="393.8" cy="627.4" r="3.7" fill="#fed024"/>
<circle cx="408.1" cy="636.7" r="3.7" fill="#fed024"/>
<circle cx="422.4" cy="645.4" r="3.7" fill="#fed024"/>
<circle cx="436.6" cy="653.5" r="3.7" fill="#fed024"/>
<circle cx="450.9" cy="661.2" r="3.7" fill="#fed024"/>
<circle cx="465.2" cy="668.6" r="3.7" fill="#fed024"/>
<circle cx="479.5" cy="674.8" r="3.7" fill="#fed024"/>
<circle cx="493.8" cy="680.9" r="3.7" fill="#fed024"/>
<circle cx="508.0" cy="686.8" r="3.7" fill="#fed024"/>
<circle cx="522.3" cy="692.2" r="3.7" fill="#fed024"/>
<circle cx="536.6" cy="697.2" r="3.7" fill="#fed024"/>
<circle cx="550.9" cy="701.4" r="3.7" fill="#fed024"/>
<circle cx="565.2" cy="705.7" r="3.7" fill="#fed024"/>
<circle cx="579.4" cy="709.6" r="3.7" fill="#fed024"/>
<circle cx="593.7" cy="713.4" r="3.7" fill="#fed024"/>
<circle cx="608.0" cy="716.5" r="3.7" fill="#fed024"/>
<circle cx="622.3" cy="719.6" r="3.7" fill="#fed024"/>
<circle cx="636.6" cy="722.3" r="3.7" fill="#fed024"/>
<circle cx="650.8" cy="725.0" r="3.7" fill="#fed024"/>
<circle cx="665.1" cy="727.8" r="3.7" fill="#fed024"/>
<circle cx="679.4" cy="729.6" r="3.7" fill="#fed024"/>
<rect x="108.5" y="466.5" width="571" height="281" fill="none" stroke="#222" stroke-width="1"/>
<path d="M108.5 747.5v-9M108.5 466.5v9M179.5 747.5v-4.5M179.5 466.5v4.5M251.5 747.5v-9M251.5 466.5v9M322.5 747.5v-4.5M322.5 466.5v4.5M393.5 747.5v-9M393.5 466.5v9M465.5 747.5v-4.5M465.5 466.5v4.5M536.5 747.5v-9M536.5 466.5v9M608.5 747.5v-4.5M608.5 466.5v4.5M679.5 747.5v-9M679.5 466.5v9M108.5 747.5h9.5M679.5 747.5h-9.5M108.5 726.1h4.5M679.5 726.1h-4.5M108.5 713.7h4.5M679.5 713.7h-4.5M108.5 704.9h4.5M679.5 704.9h-4.5M108.5 698.1h4.5M679.5 698.1h-4.5M108.5 692.6h4.5M679.5 692.6h-4.5M108.5 687.9h4.5M679.5 687.9h-4.5M108.5 683.8h4.5M679.5 683.8h-4.5M108.5 680.2h4.5M679.5 680.2h-4.5M108.5 677.5h9.5M679.5 677.5h-9.5M108.5 655.9h4.5M679.5 655.9h-4.5M108.5 643.5h4.5M679.5 643.5h-4.5M108.5 634.7h4.5M679.5 634.7h-4.5M108.5 627.9h4.5M679.5 627.9h-4.5M108.5 622.4h4.5M679.5 622.4h-4.5M108.5 617.7h4.5M679.5 617.7h-4.5M108.5 613.6h4.5M679.5 613.6h-4.5M108.5 610.0h4.5M679.5 610.0h-4.5M108.5 606.5h9.5M679.5 606.5h-9.5M108.5 585.7h4.5M679.5 585.7h-4.5M108.5 573.3h4.5M679.5 573.3h-4.5M108.5 564.5h4.5M679.5 564.5h-4.5M108.5 557.7h4.5M679.5 557.7h-4.5M108.5 552.2h4.5M679.5 552.2h-4.5M108.5 547.5h4.5M679.5 547.5h-4.5M108.5 543.4h4.5M679.5 543.4h-4.5M108.5 539.8h4.5M679.5 539.8h-4.5M108.5 536.5h9.5M679.5 536.5h-9.5M108.5 515.5h4.5M679.5 515.5h-4.5M108.5 503.1h4.5M679.5 503.1h-4.5M108.5 494.3h4.5M679.5 494.3h-4.5M108.5 487.5h4.5M679.5 487.5h-4.5M108.5 482.0h4.5M679.5 482.0h-4.5M108.5 477.3h4.5M679.5 477.3h-4.5M108.5 473.2h4.5M679.5 473.2h-4.5M108.5 469.6h4.5M679.5 469.6h-4.5M108.5 466.5h9.5M679.5 466.5h-9.5" stroke="#222" stroke-width="1" fill="none"/>
<text x="87.5" y="474.7" font-family="Liberation Serif" font-size="27" text-anchor="end">10</text>
<text x="88.8" y="464.0" font-family="Liberation Serif" font-size="18">0</text>
<text x="70.5" y="544.9" font-family="Liberation Serif" font-size="27" text-anchor="end">10</text>
<text x="72.5" y="533.5" font-family="Liberation Serif" font-size="16.5" textLength="24.5" lengthAdjust="spacingAndGlyphs">−1</text>
<text x="70.5" y="615.1" font-family="Liberation Serif" font-size="27" text-anchor="end">10</text>
<text x="72.5" y="603.7" font-family="Liberation Serif" font-size="16.5" textLength="24.5" lengthAdjust="spacingAndGlyphs">−2</text>
<text x="70.5" y="685.3" font-family="Liberation Serif" font-size="27" text-anchor="end">10</text>
<text x="72.5" y="673.9" font-family="Liberation Serif" font-size="16.5" textLength="24.5" lengthAdjust="spacingAndGlyphs">−3</text>
<text x="70.5" y="755.5" font-family="Liberation Serif" font-size="27" text-anchor="end">10</text>
<text x="72.5" y="744.1" font-family="Liberation Serif" font-size="16.5" textLength="25.7" lengthAdjust="spacingAndGlyphs">−4</text>
<text x="107.9" y="781.5" font-family="Liberation Serif" font-size="27" text-anchor="middle">0</text>
<text x="251" y="781.5" font-family="Liberation Serif" font-size="27" text-anchor="middle">1</text>
<text x="393.9" y="781.5" font-family="Liberation Serif" font-size="27" text-anchor="middle">2</text>
<text x="536.7" y="781.5" font-family="Liberation Serif" font-size="27" text-anchor="middle">3</text>
<text x="679.6" y="781.5" font-family="Liberation Serif" font-size="27" text-anchor="middle">4</text>
<text x="292.3" y="821.3" font-family="Liberation Serif" font-size="26" textLength="129.8" lengthAdjust="spacingAndGlyphs">Interaction</text>
<text x="431.8" y="821.3" font-family="Liberation Serif" font-size="26" font-style="italic">U</text>
<line x1="464.1" y1="802.1" x2="453.6" y2="827.1" stroke="#000" stroke-width="1.5"/>
<text x="464.3" y="821.3" font-family="Liberation Serif" font-size="26" font-style="italic" textLength="28" lengthAdjust="spacingAndGlyphs">W</text>
<text transform="translate(24.9,714.4) rotate(-90)" x="0" y="0" font-family="Liberation Serif" font-size="28.5" textLength="215" lengthAdjust="spacingAndGlyphs">Largest gap in ES</text>
<line x1="236" y1="614.4" x2="261" y2="614.4" stroke="#47b5eb" stroke-width="2"/>
<circle cx="248.5" cy="614.4" r="4.3" fill="#47b5eb"/>
<text x="278" y="621.9" font-family="Liberation Serif" font-size="26.5" font-style="italic" textLength="18" lengthAdjust="spacingAndGlyphs">L</text>
<path d="M304 612.35h19v1.4h-19zM304 617.25h19v1.4h-19z" fill="#111"/>
<text x="331.6" y="621.9" font-family="Liberation Serif" font-size="26.5">60</text>
<line x1="236" y1="641.3" x2="261" y2="641.3" stroke="#55294d" stroke-width="2"/>
<circle cx="248.5" cy="641.3" r="4.3" fill="#55294d"/>
<text x="278" y="648.8" font-family="Liberation Serif" font-size="26.5" font-style="italic" textLength="18" lengthAdjust="spacingAndGlyphs">L</text>
<path d="M304 639.25h19v1.4h-19zM304 644.15h19v1.4h-19z" fill="#111"/>
<text x="331.6" y="648.8" font-family="Liberation Serif" font-size="26.5">80</text>
<line x1="236" y1="668.2" x2="261" y2="668.2" stroke="#ee4126" stroke-width="2"/>
<circle cx="248.5" cy="668.2" r="4.3" fill="#ee4126"/>
<text x="278" y="675.7" font-family="Liberation Serif" font-size="26.5" font-style="italic" textLength="18" lengthAdjust="spacingAndGlyphs">L</text>
<path d="M304 666.15h19v1.4h-19zM304 671.05h19v1.4h-19z" fill="#111"/>
<text x="331.6" y="675.7" font-family="Liberation Serif" font-size="26.5">100</text>
<line x1="236" y1="695.1" x2="261" y2="695.1" stroke="#e88225" stroke-width="2"/>
<circle cx="248.5" cy="695.1" r="4.3" fill="#e88225"/>
<text x="278" y="702.6" font-family="Liberation Serif" font-size="26.5" font-style="italic" textLength="18" lengthAdjust="spacingAndGlyphs">L</text>
<path d="M304 693.05h19v1.4h-19zM304 697.95h19v1.4h-19z" fill="#111"/>
<text x="331.6" y="702.6" font-family="Liberation Serif" font-size="26.5">120</text>
<line x1="236" y1="722.0" x2="261" y2="722.0" stroke="#fed024" stroke-width="2"/>
<circle cx="248.5" cy="722.0" r="4.3" fill="#fed024"/>
<text x="278" y="729.5" font-family="Liberation Serif" font-size="26.5" font-style="italic" textLength="18" lengthAdjust="spacingAndGlyphs">L</text>
<path d="M304 719.95h19v1.4h-19zM304 724.85h19v1.4h-19z" fill="#111"/>
<text x="331.6" y="729.5" font-family="Liberation Serif" font-size="26.5">140</text>
</svg>
</body></html>
